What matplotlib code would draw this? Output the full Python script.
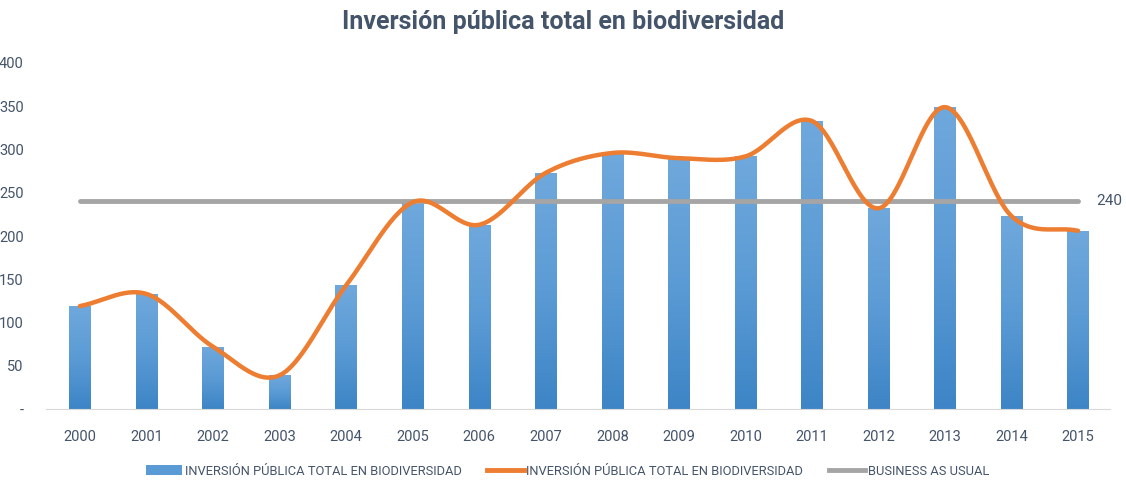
import numpy as np
import matplotlib.pyplot as plt
from matplotlib.lines import Line2D
from matplotlib.patches import Patch

# ── Data ──────────────────────────────────────────────────────────────────────
years = ["2000", "2001", "2002", "2003", "2004", "2005", "2006", "2007",
         "2008", "2009", "2010", "2011", "2012", "2013", "2014", "2015"]
inversion = [119, 133, 72, 39, 143, 239, 213, 273,
             296, 290, 292, 333, 232, 349, 223, 206]
bau = 240
yticks = [0, 50, 100, 150, 200, 250, 300, 350, 400]
ytick_labels = ["-", "50", "100", "150", "200", "250", "300", "350", "400"]

LEG_BAR = "INVERSIÓN PÚBLICA TOTAL EN BIODIVERSIDAD"
LEG_LINE = "INVERSIÓN PÚBLICA TOTAL EN BIODIVERSIDAD"
LEG_BAU = "BUSINESS AS USUAL"

TXT = "#44546A"
FONT = ["Liberation Sans Narrow", "Roboto", "DejaVu Sans"]
plt.rcParams["font.family"] = FONT


def catmull_rom(xs, ys, n=30):
    # smooth curve through the data points, like Excel's "smoothed line"
    xs = np.asarray(xs, float)
    ys = np.asarray(ys, float)
    px = np.concatenate([[2 * xs[0] - xs[1]], xs, [2 * xs[-1] - xs[-2]]])
    py = np.concatenate([[2 * ys[0] - ys[1]], ys, [2 * ys[-1] - ys[-2]]])
    out_x, out_y = [], []
    t = np.linspace(0, 1, n, endpoint=False)
    for i in range(1, len(px) - 2):
        for p, o in ((px, out_x), (py, out_y)):
            p0, p1, p2, p3 = p[i - 1], p[i], p[i + 1], p[i + 2]
            m1 = (p2 - p0) / 2
            m2 = (p3 - p1) / 2
            h00 = 2 * t**3 - 3 * t**2 + 1
            h10 = t**3 - 2 * t**2 + t
            h01 = -2 * t**3 + 3 * t**2
            h11 = t**3 - t**2
            o.extend(h00 * p1 + h10 * m1 + h01 * p2 + h11 * m2)
    out_x.append(xs[-1])
    out_y.append(ys[-1])
    return np.array(out_x), np.array(out_y)


fig = plt.figure(figsize=(11.26, 4.86), dpi=100)
ax = fig.add_axes([46 / 1126, 77 / 486, 1064 / 1126, 346 / 486])

x = np.arange(len(years))
bw = 0.32
bars = ax.bar(x, inversion, bw, color="#5B9BD5", zorder=2)

# vertical gradient inside each bar
grad = np.linspace(0, 1, 256).reshape(-1, 1)
cmap = plt.matplotlib.colors.LinearSegmentedColormap.from_list(
    "bars", ["#3D85C6", "#5B9BD5", "#6FA8DC"])
for b in bars:
    x0, w, h = b.get_x(), b.get_width(), b.get_height()
    im = ax.imshow(grad, cmap=cmap, extent=[x0, x0 + w, 0, h],
                   origin="lower", aspect="auto", zorder=2.1)
    im.set_clip_path(b)

ax.plot([x[0], x[-1]], [bau, bau], color="#A5A5A5", lw=3.5,
        solid_capstyle="round", zorder=3)
sx, sy = catmull_rom(x, inversion)
ax.plot(sx, sy, color="#ED7D31", lw=3.2, solid_capstyle="round", zorder=4)
ax.text(x[-1] + 0.28, bau, str(bau), ha="left", va="center",
        fontsize=11, color=TXT)

ax.set_xlim(-0.51, 15.48)
ax.set_ylim(0, 400)
ax.set_xticks(x)
ax.set_xticklabels(years, fontsize=10.5, color=TXT)
ax.set_yticks(yticks)
ax.set_yticklabels(ytick_labels, fontsize=10.5, color=TXT)
ax.tick_params(length=0, pad=10)
ax.tick_params(axis="x", pad=15)
ax.tick_params(axis="y", pad=16)
for s in ("top", "right", "left"):
    ax.spines[s].set_visible(False)
ax.spines["bottom"].set_color("#D9D9D9")

fig.text(0.5, 0.955, "Inversión pública total en biodiversidad",
         ha="center", va="center", fontsize=18, fontweight="bold", color=TXT)

handles = [
    Patch(facecolor="#5B9BD5", label=LEG_BAR),
    Line2D([], [], color="#ED7D31", lw=3.5, label=LEG_LINE),
    Line2D([], [], color="#A5A5A5", lw=3.5, label=LEG_BAU),
]
fig.legend(handles=handles, loc="center", bbox_to_anchor=(0.504, 0.03),
           ncol=3, frameon=False, fontsize=9.3, handlelength=2.8,
           handleheight=0.8, columnspacing=2.0, handletextpad=0.2,
           labelcolor=TXT)

fig.savefig("out.png", dpi=100, facecolor="white")
